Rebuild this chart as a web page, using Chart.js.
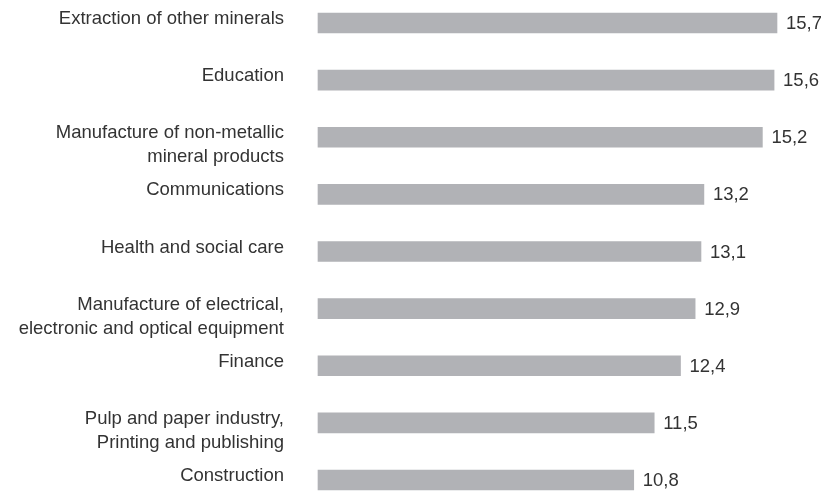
<!DOCTYPE html>
<html>
<head>
<meta charset="utf-8">
<script src="https://cdn.jsdelivr.net/npm/chart.js@4"></script>
<style>
html,body{margin:0;padding:0;background:#fff;}
#wrap{width:821px;height:491px;}
</style>
</head>
<body>
<div id="wrap"><canvas id="c" width="821" height="491"></canvas></div>
<script>
const categories = [
  ["Extraction of other minerals"],
  ["Education"],
  ["", "Manufacture of non-metallic", "mineral products"],
  ["Communications"],
  ["Health and social care"],
  ["", "Manufacture of electrical,", "electronic and optical equipment"],
  ["Finance"],
  ["", "Pulp and paper industry,", "Printing and publishing"],
  ["Construction"]
];
const values = [15.7, 15.6, 15.2, 13.2, 13.1, 12.9, 12.4, 11.5, 10.8];

const FONT = "'Liberation Sans', Arial, sans-serif";
const TEXT = '#333333';

const valueLabels = {
  id: 'valueLabels',
  afterDatasetsDraw(chart) {
    const ctx = chart.ctx;
    const meta = chart.getDatasetMeta(0);
    ctx.save();
    ctx.font = '18.5px ' + FONT;
    ctx.fillStyle = TEXT;
    ctx.textAlign = 'left';
    ctx.textBaseline = 'middle';
    meta.data.forEach((bar, i) => {
      const txt = values[i].toFixed(1).replace('.', ',');
      ctx.fillText(txt, bar.x + 9, bar.y + 1);
    });
    ctx.restore();
  }
};

new Chart(document.getElementById('c'), {
  type: 'bar',
  data: {
    labels: categories,
    datasets: [{
      data: values,
      backgroundColor: '#b1b2b6',
      borderWidth: 0,
      barThickness: 20,
      clip: false
    }]
  },
  options: {
    indexAxis: 'y',
    responsive: false,
    animation: false,
    layout: { padding: { top: 23, bottom: 11, left: 0, right: 6 } },
    plugins: { legend: { display: false }, tooltip: { enabled: false } },
    scales: {
      x: { display: false, min: 0, max: 17 },
      y: {
        offset: false,
        grid: { display: false, drawTicks: false },
        border: { display: false },
        afterFit(scale) {
          scale.width = 318;
          scale.paddingTop = 0;
          scale.paddingBottom = 0;
        },
        ticks: {
          autoSkip: false,
          padding: 34,
          labelOffset: -4,
          color: TEXT,
          font: { family: FONT, size: 18.5, lineHeight: 1.3 }
        }
      }
    }
  },
  plugins: [valueLabels]
});
</script>
</body>
</html>
